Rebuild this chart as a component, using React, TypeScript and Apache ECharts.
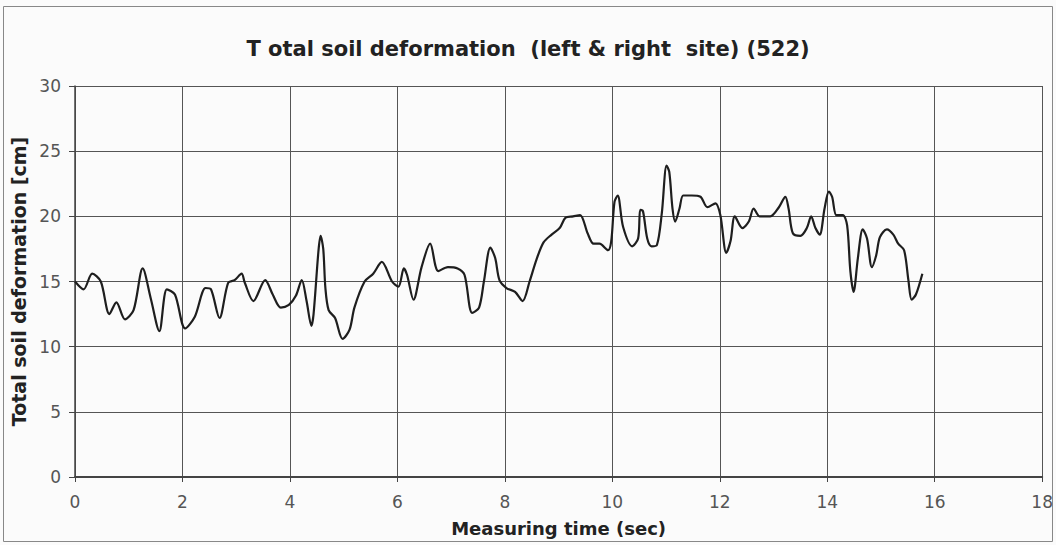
import React, { useEffect, useRef } from "react";
import * as echarts from "echarts";

const titleText = "T otal soil deformation  (left & right  site) (522)";
const xAxisName = "Measuring time (sec)";
const yAxisName = "Total soil deformation [cm]";

const times = [
  0, 0.16, 0.32, 0.48, 0.64, 0.77, 0.93, 1.09, 1.26, 1.41, 1.57, 1.71, 1.86,
  2.05, 2.23, 2.43, 2.53, 2.69, 2.85, 2.97, 3.1, 3.16, 3.32, 3.54, 3.68, 3.83,
  3.98, 4.11, 4.22, 4.31, 4.4, 4.44, 4.53, 4.57, 4.62, 4.66, 4.72, 4.84, 4.98,
  5.11, 5.2, 5.39, 5.55, 5.71, 5.9, 6.02, 6.12, 6.18, 6.3, 6.45, 6.61, 6.76,
  6.94, 7.12, 7.25, 7.39, 7.52, 7.61, 7.73, 7.82, 7.9, 8.03, 8.19, 8.33, 8.46,
  8.59, 8.72, 8.87, 9.02, 9.13, 9.27, 9.4, 9.54, 9.65, 9.76, 9.92, 9.98,
  10.04, 10.1, 10.2, 10.37, 10.48, 10.52, 10.57, 10.65, 10.73, 10.83, 10.92,
  11.01, 11.06, 11.12, 11.17, 11.25, 11.32, 11.48, 11.64, 11.77, 11.92, 12.01,
  12.12, 12.2, 12.28, 12.42, 12.54, 12.63, 12.74, 12.94, 13.1, 13.22, 13.28,
  13.36, 13.5, 13.62, 13.7, 13.78, 13.86, 13.95, 14.03, 14.09, 14.17, 14.29,
  14.37, 14.43, 14.49, 14.57, 14.66, 14.74, 14.83, 14.91, 14.98, 15.11, 15.23,
  15.32, 15.43, 15.51, 15.57, 15.65, 15.77,
];

const deformation = [
  15.0, 14.4, 15.6, 15.0, 12.5, 13.4, 12.1, 12.8, 16.0, 13.7, 11.2, 14.4, 14.0,
  11.4, 12.3, 14.5, 14.4, 12.2, 14.9, 15.1, 15.6, 14.9, 13.5, 15.1, 14.0, 13.0,
  13.2, 13.9, 15.1, 13.5, 11.6, 12.5, 17.3, 18.5, 17.5, 14.5, 12.8, 12.2, 10.6,
  11.3, 13.0, 15.0, 15.6, 16.5, 15.0, 14.6, 16.0, 15.5, 13.6, 16.1, 17.9, 15.8,
  16.1, 16.0, 15.5, 12.6, 13.0, 15.0, 17.6, 16.8, 15.1, 14.5, 14.2, 13.5, 15.0,
  16.7, 18.0, 18.6, 19.1, 19.9, 20.0, 20.1, 18.7, 17.9, 17.9, 17.4, 18.1,
  21.1, 21.6, 19.2, 17.7, 18.3, 20.5, 20.4, 18.3, 17.7, 17.8, 20.2,
  23.9, 23.4, 20.6, 19.6, 20.6, 21.6, 21.6, 21.5, 20.7, 21.0, 20.1,
  17.2, 18.1, 20.0, 19.1, 19.6, 20.6, 20.0, 20.0, 20.7, 21.5, 20.6,
  18.7, 18.5, 19.1, 20.0, 19.1, 18.6, 20.6, 21.9, 21.5, 20.1, 20.1,
  19.3, 15.8, 14.2, 16.8, 19.0, 18.3, 16.1, 17.0, 18.4, 19.0, 18.6,
  17.9, 17.4, 15.1, 13.6, 14.0, 15.6,
];

const xMin = 0;
const xMax = 18;
const xStep = 2;
const yMin = 0;
const yMax = 30;
const yStep = 5;

export default function App() {
  const ref = useRef<HTMLDivElement>(null);

  useEffect(() => {
    if (!ref.current) return;
    const chart = echarts.init(ref.current, null, { renderer: "svg" });
    const font = "'DejaVu Sans', 'Noto Sans', sans-serif";
    const seriesData = times.map((t, i) => [t, deformation[i]]);
    chart.setOption({
      animation: false,
      backgroundColor: "#fbfbfb",
      textStyle: { fontFamily: font },
      title: {
        text: titleText,
        left: "center",
        top: 33,
        textStyle: {
          fontFamily: font,
          fontSize: 21,
          fontWeight: "bold",
          color: "#222",
        },
      },
      graphic: [
        {
          type: "rect",
          shape: { x: 3.5, y: 6.5, width: 1049, height: 535 },
          style: { fill: "none", stroke: "#888", lineWidth: 1 },
          silent: true,
        },
      ],
      grid: { left: 75, right: 10, top: 86, bottom: 68 },
      xAxis: {
        type: "value",
        min: xMin,
        max: xMax,
        interval: xStep,
        name: xAxisName,
        nameLocation: "middle",
        nameGap: 42,
        nameTextStyle: {
          fontFamily: font,
          fontSize: 18,
          fontWeight: "bold",
          color: "#222",
        },
        axisLine: { show: true, onZero: false, lineStyle: { color: "#444", width: 2 } },
        axisTick: { show: true, inside: false, length: 5, lineStyle: { color: "#444" } },
        axisLabel: { fontFamily: font, fontSize: 17, color: "#555", margin: 16 },
        splitLine: { show: true, lineStyle: { color: "#555", width: 1 } },
      },
      yAxis: {
        type: "value",
        min: yMin,
        max: yMax,
        interval: yStep,
        name: yAxisName,
        nameLocation: "middle",
        nameGap: 42,
        nameTextStyle: {
          fontFamily: font,
          fontSize: 19,
          fontWeight: "bold",
          color: "#222",
        },
        axisLine: { show: true, lineStyle: { color: "#444", width: 1.5 } },
        axisTick: { show: true, length: 6, lineStyle: { color: "#444" } },
        axisLabel: { fontFamily: font, fontSize: 17, color: "#555", margin: 14 },
        splitLine: { show: true, lineStyle: { color: "#555", width: 1 } },
      },
      series: [
        {
          type: "line",
          data: seriesData,
          smooth: 0.3,
          showSymbol: false,
          lineStyle: { color: "#1e1e1e", width: 2.2 },
        },
      ],
    });
    return () => chart.dispose();
  }, []);

  return (
    <div
      ref={ref}
      style={{ position: "fixed", left: 0, top: 0, width: 1056, height: 545 }}
    />
  );
}
